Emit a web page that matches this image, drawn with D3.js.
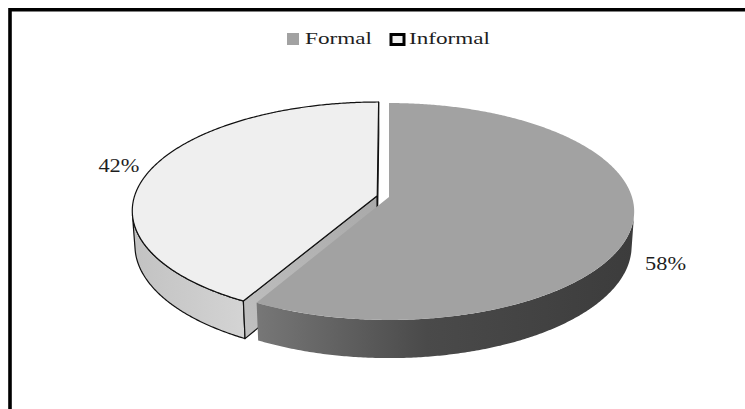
<!DOCTYPE html>
<html>
<head>
<meta charset="utf-8">
<script src="https://cdn.jsdelivr.net/npm/d3@7"></script>
<style>
  html, body { margin: 0; padding: 0; background: #fff; }
  svg { display: block; }
  text { font-family: "Liberation Serif", "DejaVu Serif", serif; fill: #1e1e1e; }
</style>
</head>
<body>
<svg id="chart" width="745" height="409"></svg>
<script>
// Share of employment by type
const categories = ["Formal", "Informal"];
const values = [58, 42];
const valueLabels = ["58%", "42%"];
const explodeSlice = [false, true];

const topColors = ["#a2a2a2", "#efefef"];
const sideColors = [["#777777", "#4a4a4a", "#3c3c3c"], ["#c2c2c2", "#cacaca", "#d4d4d4"]];
const strokes = [null, "#111"];

const W = 745, H = 409;
const svg = d3.select("#chart");
const defs = svg.append("defs");

svg.append("rect").attr("width", W).attr("height", H).attr("fill", "#fff");

// chart frame (top and left edges)
svg.append("path")
  .attr("d", "M10,409 V9.8 H745")
  .attr("fill", "none").attr("stroke", "#000").attr("stroke-width", 3.6);

// ---- perspective projection of a unit-radius pie lying in a horizontal plane ----
const tilt = 26 * Math.PI / 180;
const ca = Math.cos(tilt), sa = Math.sin(tilt);
const camDist = 6.725;      // camera distance in pie radii
const focal = 1634;         // pixels
const origin = [389, 197];  // screen position of the pie centre (top face)
const thickness = 0.159;    // pie height in radii
const explodeBy = 0.05;

function proj(theta, r, y, off) {
  const X = r * Math.sin(theta) + off.x;
  const Z = r * Math.cos(theta) + off.z;   // +Z points away from the viewer
  const depth = camDist + Z * ca - y * sa;
  return [origin[0] + focal * X / depth, origin[1] - focal * (y * ca + Z * sa) / depth];
}

function arcPoints(a0, a1, y, off) {
  const n = Math.max(2, Math.ceil(Math.abs(a1 - a0) / (Math.PI / 360)));
  return d3.range(n + 1).map(i => proj(a0 + (a1 - a0) * i / n, 1, y, off));
}

// outer wall faces the camera where this is positive
function wallFacing(theta, off) {
  return -1 - off.x * Math.sin(theta) - (camDist * ca + off.z) * Math.cos(theta);
}

const pie = d3.pie().sort(null).startAngle(0).endAngle(2 * Math.PI);
const arcs = pie(values).map((d, i) => {
  const mid = (d.startAngle + d.endAngle) / 2;
  const e = explodeSlice[i] ? explodeBy : 0;
  return { ...d, i, mid, off: { x: e * Math.sin(mid), z: e * Math.cos(mid) } };
});

const line = d3.line();
const bottomY = -thickness;

// exploded slice lies behind, so it is painted first
const order = arcs.slice().sort((a, b) => (explodeSlice[b.i] ? 1 : 0) - (explodeSlice[a.i] ? 1 : 0));

order.forEach(d => {
  const g = svg.append("g").attr("class", "slice " + categories[d.i]);
  const stroke = strokes[d.i];
  const sw = 1.2;

  // visible part of the outer wall
  const step = Math.PI / 720;
  let a0 = null, a1 = null;
  for (let t = d.startAngle; t <= d.endAngle + 1e-9; t += step) {
    if (wallFacing(t, d.off) > 0) { if (a0 === null) a0 = t; a1 = t; }
  }
  if (a0 !== null) {
    const topRim = arcPoints(a0, a1, 0, d.off);
    const botRim = arcPoints(a1, a0, bottomY, d.off);
    const pts = topRim.concat(botRim);
    const xs = pts.map(p => p[0]);
    const gid = "side" + d.i;
    const grad = defs.append("linearGradient").attr("id", gid)
      .attr("gradientUnits", "userSpaceOnUse")
      .attr("x1", d3.min(xs)).attr("x2", d3.max(xs)).attr("y1", 0).attr("y2", 0);
    const sc = sideColors[d.i];
    grad.append("stop").attr("offset", 0).attr("stop-color", sc[0]);
    grad.append("stop").attr("offset", 0.45).attr("stop-color", sc[1]);
    grad.append("stop").attr("offset", 1).attr("stop-color", sc[2]);
    g.append("path").attr("d", line(pts) + "Z")
      .attr("fill", `url(#${gid})`)
      .attr("stroke", stroke || "none").attr("stroke-width", sw).attr("stroke-linejoin", "round");
  }

  // radial cut faces that turn toward the viewer
  [[d.startAngle, -1], [d.endAngle, 1]].forEach(([t, dir]) => {
    const nx = dir * Math.cos(t), nz = -dir * Math.sin(t);
    const c = proj(0, 0, 0, d.off);
    // camera direction from the slice centre
    const cx = -d.off.x, cz = -camDist * ca - d.off.z;
    if (nx * cx + nz * cz <= 0) return;
    const pts = [proj(t, 0, 0, d.off), proj(t, 1, 0, d.off), proj(t, 1, bottomY, d.off), proj(t, 0, bottomY, d.off)];
    const gid = "cut" + d.i;
    const grad = defs.append("linearGradient").attr("id", gid)
      .attr("gradientUnits", "userSpaceOnUse")
      .attr("x1", pts[0][0]).attr("y1", pts[0][1]).attr("x2", pts[2][0]).attr("y2", pts[2][1]);
    grad.append("stop").attr("offset", 0).attr("stop-color", "#a9a9a9");
    grad.append("stop").attr("offset", 1).attr("stop-color", "#c0c0c0");
    g.append("path").attr("d", line(pts) + "Z")
      .attr("fill", `url(#${gid})`)
      .attr("stroke", stroke || "none").attr("stroke-width", sw).attr("stroke-linejoin", "round");
  });

  // top face
  const topPts = [proj(0, 0, 0, d.off)].concat(arcPoints(d.startAngle, d.endAngle, 0, d.off));
  g.append("path").attr("d", line(topPts) + "Z")
    .attr("fill", topColors[d.i])
    .attr("stroke", stroke || "none").attr("stroke-width", sw).attr("stroke-linejoin", "round");
});

// value labels beside each slice
const labelLayout = [
  { dx: 14, dy: 28, anchor: "start" },
  { dx: -12, dy: -15, anchor: "end" }
];
arcs.forEach(d => {
  const p = proj(d.mid, 1, bottomY / 2, d.off);
  const L = labelLayout[d.i];
  svg.append("text")
    .attr("x", p[0] + L.dx).attr("y", p[1] + L.dy)
    .attr("text-anchor", L.anchor)
    .attr("font-size", 19)
    .attr("textLength", 41).attr("lengthAdjust", "spacingAndGlyphs")
    .text(valueLabels[d.i]);
});

// legend
const legend = svg.append("g").attr("class", "legend");
const legendItems = [
  { x: 287, textX: 305, w: 67 },
  { x: 390, textX: 409, w: 81 }
];
categories.forEach((c, i) => {
  const L = legendItems[i];
  if (i === 0) {
    legend.append("rect").attr("x", L.x).attr("y", 33).attr("width", 12).attr("height", 12)
      .attr("fill", topColors[i]);
  } else {
    legend.append("rect").attr("x", L.x + 1).attr("y", 34.5).attr("width", 13).attr("height", 10)
      .attr("fill", topColors[i]).attr("stroke", "#000").attr("stroke-width", 3);
  }
  legend.append("text").attr("x", L.textX).attr("y", 44)
    .attr("font-size", 17)
    .attr("textLength", L.w).attr("lengthAdjust", "spacingAndGlyphs")
    .text(c);
});
</script>
</body>
</html>
